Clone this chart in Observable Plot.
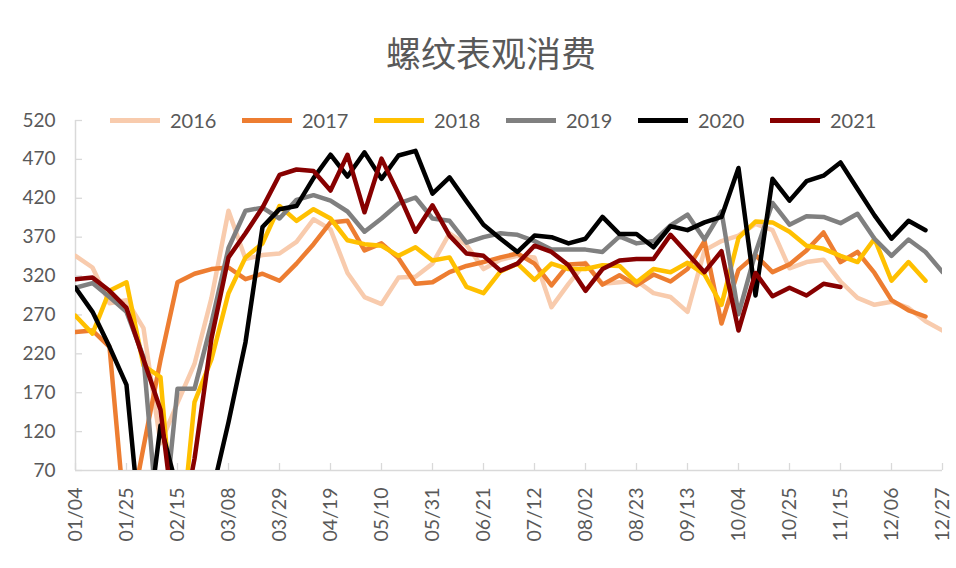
<!DOCTYPE html>
<html>
<head>
<meta charset="utf-8">
<script src="https://cdn.jsdelivr.net/npm/d3@7"></script>
<script src="https://cdn.jsdelivr.net/npm/@observablehq/plot@0.6"></script>
<style>
  body { margin: 0; background: #fff; }
  #wrap { position: relative; width: 956px; height: 568px; overflow: hidden; font-family: Lato, "Noto Sans", sans-serif; }
  #title { position: absolute; left: 13px; width: 956px; top: 26px; text-align: center;
           font-family: "Noto Sans CJK SC", sans-serif; font-size: 35px; color: #595959; }
  #legend { position: absolute; left: 0; top: 0; width: 956px; height: 140px; pointer-events: none; }
  .item { position: absolute; top: 108px; height: 24px; display: flex; align-items: center; }
  .sw { width: 50px; height: 5px; margin-right: 10px; }
  .lab { font-family: Lato, sans-serif; font-size: 20px; color: #595959; }
  #chart { position: absolute; left: 0; top: 0; }
</style>
</head>
<body>
<div id="wrap">
  <div id="chart"></div>
  <div id="title">螺纹表观消费</div>
  <div id="legend"></div>
</div>
<script>
// ---- data ----
const years = ["2016", "2017", "2018", "2019", "2020", "2021"];
const colors = ["#F8CBAD", "#ED7D31", "#FFC000", "#808080", "#000000", "#870000"];
const tickLabels = ["01/04","01/25","02/15","03/08","03/29","04/19","05/10","05/31","06/21",
                    "07/12","08/02","08/23","09/13","10/04","10/25","11/15","12/06","12/27"];
const yTicks = [70, 120, 170, 220, 270, 320, 370, 420, 470, 520];

const v2016 = [346,331,285,289,253,105,157,207,292,404,342,347,349,364,393,380,324,293,284,318,
               319,336,375,360,329,341,346,344,280,310,337,310,312,314,298,293,274,353,365,372,
               387,379,330,338,341,313,292,283,287,279,262,250];
const v2017 = [248,250,229,-15,100,212,312,323,329,331,316,323,314,336,361,389,391,353,362,343,
               310,312,325,333,338,344,349,336,308,335,336,309,321,308,322,313,329,365,259,328,
               347,325,335,353,376,338,351,324,289,276,268];
const v2018 = [269,246,301,312,205,190,-65,158,213,298,344,362,410,391,406,394,366,361,359,346,
               357,340,344,306,298,326,336,315,336,329,329,334,333,312,329,325,337,322,283,369,
               390,389,377,359,355,346,338,368,314,338,314];
const v2019 = [305,311,293,274,216,-40,175,175,260,356,404,408,394,418,424,417,403,377,394,413,
               421,394,391,363,370,375,373,365,354,354,354,351,371,362,365,385,399,367,403,271,
               350,414,386,397,396,388,400,368,346,367,351,325];
const v2020 = [305,274,229,180,-47,128,45,10,38,132,235,383,406,410,446,476,448,479,445,475,
               481,426,447,416,386,368,351,372,370,362,368,396,374,374,357,384,379,389,396,459,
               295,445,417,442,449,466,432,398,368,391,379];
const v2021 = [316,318,301,279,213,148,-30,85,240,344,375,408,450,457,455,430,476,402,471,426,
               377,411,372,349,346,327,336,359,351,334,301,329,340,342,342,373,349,325,352,250,
               324,294,305,295,310,306];

const seriesValues = [v2016, v2017, v2018, v2019, v2020, v2021];
const rows = seriesValues.flatMap((arr, k) => arr.map((v, i) => ({week: i, value: v, year: years[k]})));
const xTicks = tickLabels.map((_, j) => j * 3);
const axisGray = "#D9D9D9";
const textGray = "#595959";

const chart = Plot.plot({
  width: 956,
  height: 568,
  marginLeft: 75,
  marginRight: 14,
  marginTop: 120,
  marginBottom: 98,
  style: {fontFamily: "Lato, 'Noto Sans', sans-serif", background: "transparent"},
  x: {domain: [0, 51], label: null},
  y: {domain: [70, 520], label: null},
  color: {domain: years, range: colors},
  marks: [
    Plot.ruleX([0], {stroke: axisGray, strokeWidth: 1.5}),
    Plot.ruleY([70], {stroke: axisGray, strokeWidth: 1.5}),
    Plot.axisY(yTicks, {tickSize: 7, dx: 7, tickFormat: () => "", stroke: axisGray, strokeWidth: 1.3, label: null}),
    Plot.axisY(yTicks, {tickSize: 0, tickPadding: 20, fontSize: 19, color: textGray, label: null}),
    Plot.axisX(xTicks, {tickSize: 7, dy: -7, tickFormat: () => "", stroke: axisGray, strokeWidth: 1.3, label: null}),
    Plot.axisX(xTicks, {tickSize: 0, tickPadding: 17, tickRotate: -90, fontSize: 19.5, color: textGray,
                        tickFormat: i => tickLabels[i / 3], label: null}),
    Plot.lineY(rows, {x: "week", y: "value", z: "year", stroke: "year", strokeWidth: 4.5,
                      strokeLinejoin: "round", clip: true})
  ]
});
document.getElementById("chart").appendChild(chart);

// legend
const legend = document.getElementById("legend");
years.forEach((y, k) => {
  const item = document.createElement("div");
  item.className = "item";
  item.style.left = (110 + k * 132) + "px";
  const sw = document.createElement("div");
  sw.className = "sw";
  sw.style.background = colors[k];
  const lab = document.createElement("span");
  lab.className = "lab";
  lab.textContent = y;
  item.appendChild(sw);
  item.appendChild(lab);
  legend.appendChild(item);
});
</script>
</body>
</html>
